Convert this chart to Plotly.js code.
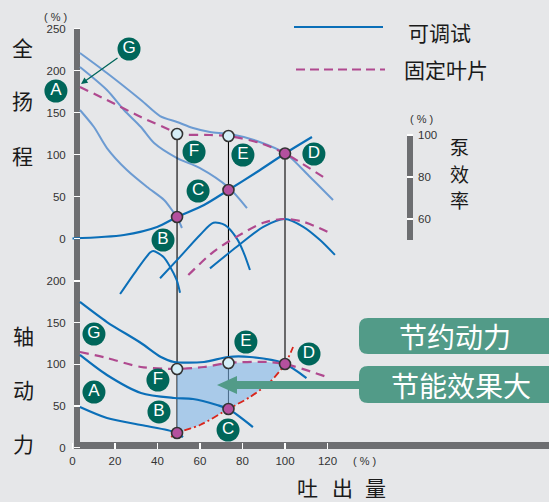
<!DOCTYPE html>
<html><head><meta charset="utf-8">
<script src="https://cdn.plot.ly/plotly-3.0.1.min.js"></script>
<style>html,body{margin:0;padding:0;background:#e6e7e9;}#chart{width:549px;height:502px;}</style>
</head><body><div id="chart"></div>
<script>
// ---------- tick labels ----------
const xTicks = [0, 20, 40, 60, 80, 100, 120];
const headTicks = [0, 50, 100, 150, 200, 250];
const powerTicks = [0, 50, 100, 150, 200];
const effTicks = [60, 80, 100];

// ---------- head curves (top, 全扬程 %) ----------
const headGX = [3.5, 16.2, 32.2, 41.2, 49.2, 56.7, 64.7, 74.1, 86.8, 100.5, 111.8, 122.6];
const headGY = [220.8, 197.0, 164.9, 145.8, 138.7, 131.5, 126.8, 124.4, 116.1, 100.6, 73.2, 45.8];
const headMidX = [3.5, 16.2, 24.2, 32.2, 38.4, 49.2, 60, 73.2, 82.1];
const headMidY = [204.2, 176.8, 153.0, 132.7, 113.7, 95.8, 83.9, 61.3, 36.3];
const headLowX = [3.5, 10.1, 16.2, 25.6, 35.1, 43.1, 47.8, 49.2, 51.5];
const headLowY = [153.0, 132.7, 107.7, 81.5, 61.3, 45.8, 30.4, 25.6, 12.5];
const fixHeadX = [3.5, 16.2, 32.2, 47.8, 49.2, 64.7, 73.4, 88.2, 100, 120.2];
const fixHeadY = [180.4, 164.9, 144.6, 126.8, 124.4, 123.2, 122.0, 113.7, 101.2, 69.6];
const sysX = [0, 24.2, 39.8, 49.2, 61.9, 73.4, 86.8, 100, 112.7];
const sysY = [0, 4.2, 13.7, 25.6, 39.9, 57.7, 79.2, 101.2, 120.8];

// ---------- efficiency curves (泵效率 %) ----------
const eff1X = [22.4, 30.2, 36.5, 38.0, 42.7, 45.9, 49.0, 50.6];
const eff1Y = [24.3, 35.7, 44.0, 44.8, 42.0, 37.3, 31.0, 24.9];
const eff2X = [41.2, 50.6, 60, 66.3, 71.8, 77.3, 80.4, 83.5];
const eff2Y = [31.8, 42.0, 52.4, 58.2, 57.1, 50.8, 44.4, 35.7];
const eff3X = [64.7, 77.3, 89.8, 100, 108.6, 116.5, 123.5];
const eff3Y = [36.5, 46.8, 56.3, 60, 56.3, 50, 42.9];
const effFixX = [54.5, 66.3, 77.3, 89.8, 99.2, 108.6, 120.8];
const effFixY = [33.3, 44.4, 51.6, 58.2, 60, 58.7, 53.5];

// ---------- shaft power curves (bottom, 轴动力 %) ----------
const powGX = [3.5, 16.2, 32.2, 41.6, 47.8, 61.9, 73.2, 83.5, 99.1, 110.1];
const powGY = [174.9, 150.8, 125.6, 108.8, 102.8, 102.8, 108.8, 108.8, 101.6, 83.5];
const powAX = [3.5, 16.2, 32.2, 47.8, 56.7, 68.0, 73.4, 84.9];
const powAY = [111.2, 87.1, 65.5, 59.5, 58.3, 51.1, 46.3, 24.6];
const powBX = [3.5, 16.2, 32.2, 44.5, 49.2, 52.0];
const powBY = [48.7, 35.5, 27.0, 21.0, 17.4, 12.6];
const fixPowX = [3.5, 16.2, 32.2, 49.2, 61.9, 73.4, 91.5, 100, 119.8];
const fixPowY = [114.8, 107.6, 96.8, 94.4, 96.8, 101.6, 102.8, 100.4, 84.7];
const saveX = [46.4, 49.2, 60, 73.4, 83.5, 92.9, 100, 103.8];
const saveY = [12.6, 17.4, 27.0, 46.3, 60.7, 78.7, 100.4, 120.8];

// ---------- operating points (F/B, E/C, D) ----------
const opX = [49.2, 73.4, 100];
const headFixedPts = [124.4, 122.0, 101.2];
const headAdjPts = [25.6, 57.7, 101.2];
const powFixedPts = [94.4, 101.6, 100.4];
const powAdjPts = [17.4, 46.3, 100.4];

// ---------- letter tags ----------
const topTags = ['G', 'A', 'F', 'E', 'C', 'B', 'D'];
const topTagX = [26.6, -7.8, 57.2, 80.2, 59.1, 42.6, 113.6];
const topTagY = [225.6, 175.6, 103.0, 99.4, 56.5, -1.8, 100.6];
const botTags = ['G', 'A', 'F', 'E', 'B', 'C', 'D'];
const botTagX = [10.1, 10.1, 40.2, 81.6, 40.7, 73.2, 111.3];
const botTagY = [136.4, 66.7, 81.1, 126.8, 42.7, 21.0, 112.4];

// ---------- layout geometry ----------
const W = 549, H = 502;
const XR = [-34.12, 224.24];
const YR = [-313.69, 283.93];
const Y2R = [-65.5, 537.86];
const Y3R = [-74.76, 164.29];
const y2toY = v => YR[0] + (v - Y2R[0]) / (Y2R[1] - Y2R[0]) * (YR[1] - YR[0]);

const LB = '#6c9bd2', DB = '#0b6fb8', MG = '#b0498f', RD = '#d9261c', TEAL = '#00665a', GR = '#529b88';
const FONT = 'Liberation Sans, Arial, sans-serif';
const CJK = 'Noto Sans CJK SC, sans-serif';

const traces = [];
function line(x, y, color, width, dash, axis) {
  traces.push({x, y, yaxis: axis, mode: 'lines', line: {color, width, dash: dash || 'solid', shape: 'spline', smoothing: 0.8}, hoverinfo: 'skip'});
}
// top panel
line(headGX, headGY, LB, 2, null, 'y');
line(headMidX, headMidY, LB, 2, null, 'y');
line(headLowX, headLowY, LB, 2, null, 'y');
line(fixHeadX, fixHeadY, MG, 2.2, '9px,6px', 'y');
line(sysX, sysY, DB, 2.2, null, 'y');
// vertical operating lines
opX.forEach((x, i) => {
  traces.push({x: [x, x], y: [headFixedPts[i], y2toY(powAdjPts[i])], yaxis: 'y', mode: 'lines',
    line: {color: '#000', width: 1.1}, hoverinfo: 'skip'});
});
// top markers
traces.push({x: opX.slice(0, 2), y: headFixedPts.slice(0, 2), yaxis: 'y', mode: 'markers',
  marker: {size: 11, color: '#d6eef7', line: {color: '#333', width: 1.6}}, hoverinfo: 'skip'});
traces.push({x: opX, y: headAdjPts, yaxis: 'y', mode: 'markers',
  marker: {size: 11, color: '#b4509e', line: {color: '#333', width: 1.6}}, hoverinfo: 'skip'});
traces.push({x: topTagX, y: topTagY, yaxis: 'y', mode: 'markers+text', text: topTags, textposition: 'middle center',
  textfont: {color: 'white', size: 17, family: FONT}, marker: {size: 23, color: TEAL}, hoverinfo: 'skip'});

// bottom panel: saving area
const areaX = [], areaY = [];
fixPowX.forEach((x, i) => { if (x >= opX[0] && x <= opX[2]) { areaX.push(x); areaY.push(fixPowY[i]); } });
for (let i = saveX.length - 1; i >= 0; i--) { if (saveX[i] >= opX[0] && saveX[i] <= opX[2]) { areaX.push(saveX[i]); areaY.push(saveY[i]); } }
traces.push({x: areaX, y: areaY, yaxis: 'y2', mode: 'lines', fill: 'toself', fillcolor: 'rgba(128,184,233,0.6)',
  line: {width: 0}, hoverinfo: 'skip'});
line(powGX, powGY, DB, 2.2, null, 'y2');
line(powAX, powAY, DB, 2.2, null, 'y2');
line(powBX, powBY, DB, 2.2, null, 'y2');
line(fixPowX, fixPowY, MG, 2.2, '9px,6px', 'y2');
line(saveX, saveY, RD, 1.8, '7px,3px,2px,3px', 'y2');
traces.push({x: opX.slice(0, 2), y: powFixedPts.slice(0, 2), yaxis: 'y2', mode: 'markers',
  marker: {size: 11, color: '#d6eef7', line: {color: '#333', width: 1.6}}, hoverinfo: 'skip'});
traces.push({x: opX, y: powAdjPts, yaxis: 'y2', mode: 'markers',
  marker: {size: 11, color: '#b4509e', line: {color: '#333', width: 1.6}}, hoverinfo: 'skip'});
traces.push({x: botTagX, y: botTagY, yaxis: 'y2', mode: 'markers+text', text: botTags, textposition: 'middle center',
  textfont: {color: 'white', size: 17, family: FONT}, marker: {size: 23, color: TEAL}, hoverinfo: 'skip'});

// efficiency
line(eff1X, eff1Y, DB, 2, null, 'y3');
line(eff2X, eff2Y, DB, 2, null, 'y3');
line(eff3X, eff3Y, DB, 2, null, 'y3');
line(effFixX, effFixY, MG, 2.2, '9px,6px', 'y3');

// ---------- decorations ----------
const px = x => x / W, py = y => 1 - y / H;
function path(pts) { return 'M' + pts.map(p => px(p[0]).toFixed(5) + ',' + py(p[1]).toFixed(5)).join('L') + 'Z'; }
function rrect(x0, y0, x1, y1, r) {
  const f = (x, y) => px(x).toFixed(5) + ',' + py(y).toFixed(5);
  return 'M' + f(x0 + r, y0) + 'L' + f(x1, y0) + 'L' + f(x1, y1) + 'L' + f(x0 + r, y1) +
    'Q' + f(x0, y1) + ' ' + f(x0, y1 - r) + 'L' + f(x0, y0 + r) + 'Q' + f(x0, y0) + ' ' + f(x0 + r, y0) + 'Z';
}
const BAR = '#6d6e71';
const shapes = [
  {type: 'rect', xref: 'paper', yref: 'paper', x0: px(74), x1: px(80), y0: py(449), y1: py(28), fillcolor: BAR, line: {width: 0}, layer: 'below'},
  {type: 'rect', xref: 'paper', yref: 'paper', x0: px(74), x1: 1, y0: py(449), y1: py(442), fillcolor: BAR, line: {width: 0}, layer: 'below'},
  {type: 'rect', xref: 'paper', yref: 'paper', x0: px(407), x1: px(413), y0: py(240), y1: py(135), fillcolor: BAR, line: {width: 0}, layer: 'below'},
  {type: 'line', xref: 'paper', yref: 'paper', x0: px(294), x1: px(383), y0: py(27), y1: py(27), line: {color: DB, width: 2}},
  {type: 'line', xref: 'paper', yref: 'paper', x0: px(296), x1: px(385), y0: py(69.5), y1: py(69.5), line: {color: MG, width: 2.2, dash: '9px,5px'}},
  {type: 'path', xref: 'paper', yref: 'paper', path: rrect(359, 318, 560, 354, 9), fillcolor: GR, line: {width: 0}, layer: 'above'},
  {type: 'path', xref: 'paper', yref: 'paper', path: rrect(359, 366, 560, 403, 9), fillcolor: GR, line: {width: 0}, layer: 'above'},
  {type: 'path', xref: 'paper', yref: 'paper', path: path([[217, 385], [237, 376], [237, 381], [365, 381], [365, 389], [237, 389], [237, 394]]), fillcolor: GR, line: {width: 0}, layer: 'above'}
];

function txt(t, x, y, size, color, family) {
  return {text: t, xref: 'paper', yref: 'paper', x: px(x), y: py(y), xanchor: 'center', yanchor: 'middle', showarrow: false,
    font: {size, color: color || '#1a1a1a', family: family || CJK}};
}
const annotations = [
  txt('全', 22, 47, 21), txt('扬', 22, 100, 21), txt('程', 22, 155, 21),
  txt('轴', 23, 335, 21), txt('动', 23, 389, 21), txt('力', 23, 443, 21),
  txt('吐', 307, 487, 21), txt('出', 342, 487, 21), txt('量', 375, 487, 21),
  txt('泵', 459, 147, 19), txt('效', 459, 173, 19), txt('率', 459, 199, 19),
  txt('可调试', 439, 32, 21), txt('固定叶片', 446, 69, 21),
  txt('( % )', 55, 17, 11, '#333', FONT), txt('( % )', 364, 461, 11, '#333', FONT), txt('( % )', 421, 119, 11, '#333', FONT),
  txt('节约动力', 455, 336, 28, 'white'), txt('节能效果大', 461, 385, 28, 'white'),
  {x: 4.0, y: 184.0, xref: 'x', yref: 'y', text: '', showarrow: true, ax: 38, ay: -27,
    arrowcolor: TEAL, arrowwidth: 1.3, arrowhead: 2, arrowsize: 1, standoff: 0}
];

const tickFont = {size: 11.5, color: '#333', family: FONT};
const common = {showgrid: false, zeroline: false, showline: false, fixedrange: true, tickfont: tickFont,
  tickcolor: 'white', tickwidth: 1.5, ticklen: 6, domain: [0, 1]};
const layout = {
  width: W, height: H, margin: {l: 0, r: 0, t: 0, b: 0},
  paper_bgcolor: '#e6e7e9', plot_bgcolor: '#e6e7e9', showlegend: false,
  xaxis: Object.assign({}, common, {range: XR, anchor: 'free', position: py(449), tickvals: xTicks, ticks: 'inside', ticklabelstandoff: 3}),
  yaxis: Object.assign({}, common, {range: YR, anchor: 'free', position: px(80), side: 'left', tickvals: headTicks, ticks: 'outside', ticklabelstandoff: 6}),
  yaxis2: Object.assign({}, common, {range: Y2R, overlaying: 'y', anchor: 'free', position: px(80), side: 'left', tickvals: powerTicks, ticks: 'outside', ticklabelstandoff: 6}),
  yaxis3: Object.assign({}, common, {range: Y3R, overlaying: 'y', anchor: 'free', position: px(413), side: 'right', tickvals: effTicks, ticks: 'inside', ticklabelstandoff: 4}),
  shapes, annotations
};
Plotly.newPlot('chart', traces, layout, {staticPlot: true, displayModeBar: false});
</script></body></html>
